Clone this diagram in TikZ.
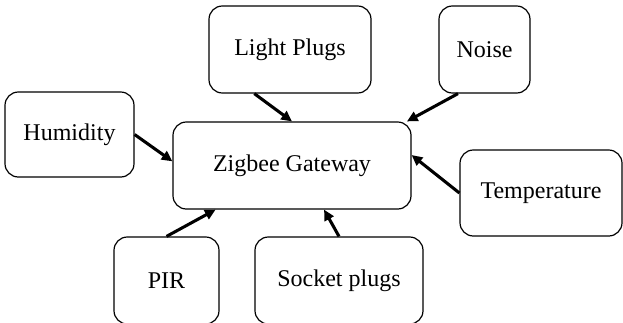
\documentclass[tikz,border=0pt]{standalone}
\usepackage{fontspec}
\setmainfont{Liberation Serif}
\usetikzlibrary{arrows.meta}

\begin{document}
\begin{tikzpicture}[
    x=0.75pt,y=-0.75pt,
    sbox/.style={
      draw=black,line width=0.9pt,rounded corners=10pt,
      inner sep=0pt,align=center,font=\fontsize{18}{22}\selectfont},
    link/.style={line width=2.3pt,-{Triangle[length=8pt,width=7.5pt]}},
  ]
    \useasboundingbox (0,0) rectangle (623,322);

    \node[sbox,minimum width=238*0.75pt,minimum height=87*0.75pt] (gw) at (292,165.5) {Zigbee Gateway};

    \node[sbox,minimum width=162*0.75pt,minimum height=87*0.75pt] (light) at (290,49.5) {Light Plugs};
    \node[sbox,minimum width=91*0.75pt,minimum height=87*0.75pt] (noise) at (484.5,49.5) {Noise};
    \node[sbox,minimum width=129*0.75pt,minimum height=85*0.75pt] (humid) at (69.5,134.5) {Humidity};
    \node[sbox,minimum width=162*0.75pt,minimum height=86*0.75pt] (temp) at (541,193) {Temperature};
    \node[sbox,minimum width=105*0.75pt,minimum height=87*0.75pt] (pir) at (166.5,280.5) {PIR};
    \node[sbox,minimum width=168*0.75pt,minimum height=87*0.75pt] (socket) at (339,280.5) {Socket plugs};

    \draw[link] (light.231) -- (gw.north);
    \draw[link] (noise.239.6) -- (gw.21.6);
    \draw[link] (humid.east) -- (gw.178.8);
    \draw[link] (temp.west) -- (gw.5);
    \draw[link] (pir.north) -- (gw.210.5);
    \draw[link] (socket.north) -- (gw.-54.5);
  \end{tikzpicture}
\end{document}
